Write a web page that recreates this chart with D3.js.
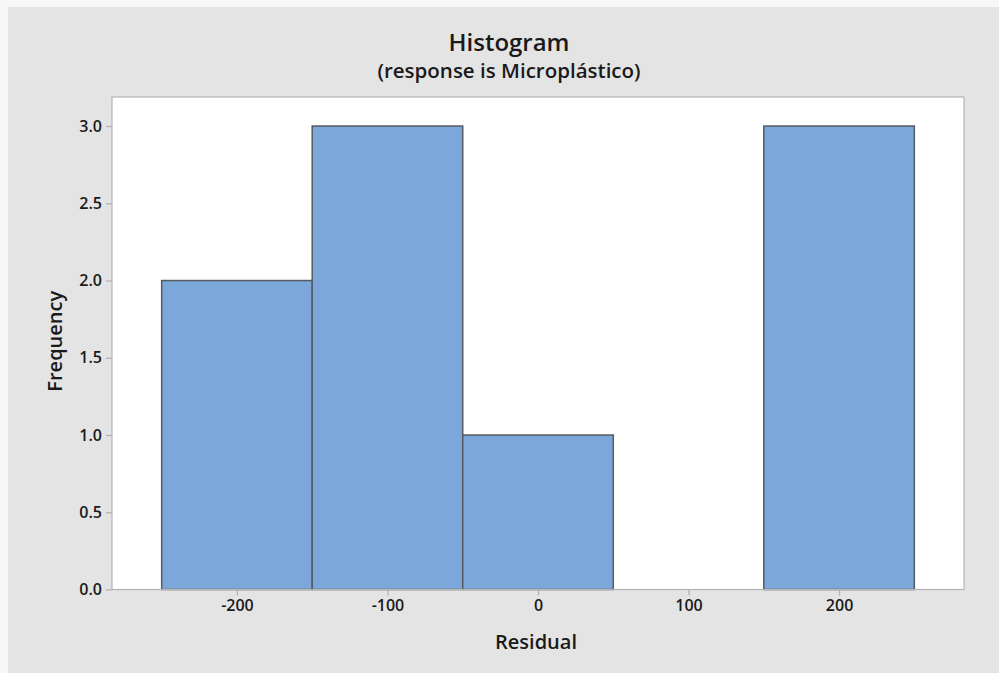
<!DOCTYPE html>
<html>
<head>
<meta charset="utf-8">
<script src="https://cdn.jsdelivr.net/npm/d3@7"></script>
<style>
  html, body { margin: 0; padding: 0; background: #f7f7f7; }
  svg { display: block; }
  text { font-family: "Open Sans", "Noto Sans", sans-serif; fill: #1a1a1a; }
</style>
</head>
<body>
<svg id="chart" width="999" height="673"></svg>
<script>
// Residual bins (lower edge, upper edge) and frequency counts
const binStarts = [-250, -150, -50, 50, 150];
const binEnds   = [-150, -50, 50, 150, 250];
const counts    = [2, 3, 1, 0, 3];

const xTicks = [-200, -100, 0, 100, 200];
const yTicks = [0.0, 0.5, 1.0, 1.5, 2.0, 2.5, 3.0];

const titleText = "Histogram";
const subtitleText = "(response is Microplástico)";
const xTitle = "Residual";
const yTitle = "Frequency";

const W = 999, H = 673;
const plot = { left: 112, top: 97, right: 964, bottom: 589.5 };

const svg = d3.select("#chart");

// outer panel
svg.append("rect")
  .attr("x", 8).attr("y", 7)
  .attr("width", W - 8).attr("height", H - 7)
  .attr("fill", "#e4e4e4");

const x = d3.scaleLinear().domain([-283, 283]).range([plot.left, plot.right]);
const y = d3.scaleLinear().domain([0, 3.188]).range([plot.bottom, plot.top]);

// plotting region
svg.append("rect")
  .attr("x", plot.left).attr("y", plot.top)
  .attr("width", plot.right - plot.left).attr("height", plot.bottom - plot.top)
  .attr("fill", "#ffffff");

// bars
const bins = binStarts.map((s, i) => ({ x0: s, x1: binEnds[i], n: counts[i] }));
svg.append("g").selectAll("rect")
  .data(bins.filter(d => d.n > 0))
  .join("rect")
  .attr("x", d => x(d.x0))
  .attr("y", d => y(d.n))
  .attr("width", d => x(d.x1) - x(d.x0))
  .attr("height", d => y(0) - y(d.n))
  .attr("fill", "#7ba7da")
  .attr("stroke", "#555a60")
  .attr("stroke-width", 1.5);

// frame
svg.append("rect")
  .attr("x", plot.left).attr("y", plot.top)
  .attr("width", plot.right - plot.left).attr("height", plot.bottom - plot.top)
  .attr("fill", "none")
  .attr("stroke", "#b4b4b4")
  .attr("stroke-width", 1.2);

// axes (hyphen-minus for negative values)
const fmtX = d => String(d);
const xAxis = svg.append("g")
  .attr("transform", `translate(0,${plot.bottom})`)
  .call(d3.axisBottom(x).tickValues(xTicks).tickSize(6).tickPadding(4).tickFormat(fmtX));
const yAxis = svg.append("g")
  .attr("transform", `translate(${plot.left},0)`)
  .call(d3.axisLeft(y).tickValues(yTicks).tickSize(6).tickPadding(4).tickFormat(d3.format(".1f")));

[xAxis, yAxis].forEach(g => {
  g.select(".domain").remove();
  g.selectAll(".tick line").attr("stroke", "#b0b0b0").attr("stroke-width", 1.2);
  g.selectAll(".tick text")
    .attr("fill", "#1a1a1a")
    .style("font-family", "'Open Sans', 'Noto Sans', sans-serif")
    .style("font-size", "16px")
    .style("font-weight", 600);
});

// titles
const cx = 509;
svg.append("text")
  .attr("x", cx).attr("y", 51)
  .attr("text-anchor", "middle")
  .style("font-size", "24px").style("font-weight", 600)
  .text(titleText);
svg.append("text")
  .attr("x", cx).attr("y", 78)
  .attr("text-anchor", "middle")
  .style("font-size", "20.5px").style("font-weight", 600)
  .text(subtitleText);

svg.append("text")
  .attr("x", (plot.left + plot.right) / 2 - 2).attr("y", 649)
  .attr("text-anchor", "middle")
  .style("font-size", "20px").style("font-weight", 600)
  .text(xTitle);

svg.append("text")
  .attr("transform", `translate(62,${(plot.top + plot.bottom) / 2 - 2}) rotate(-90)`)
  .attr("text-anchor", "middle")
  .style("font-size", "20px").style("font-weight", 600)
  .text(yTitle);
</script>
</body>
</html>
